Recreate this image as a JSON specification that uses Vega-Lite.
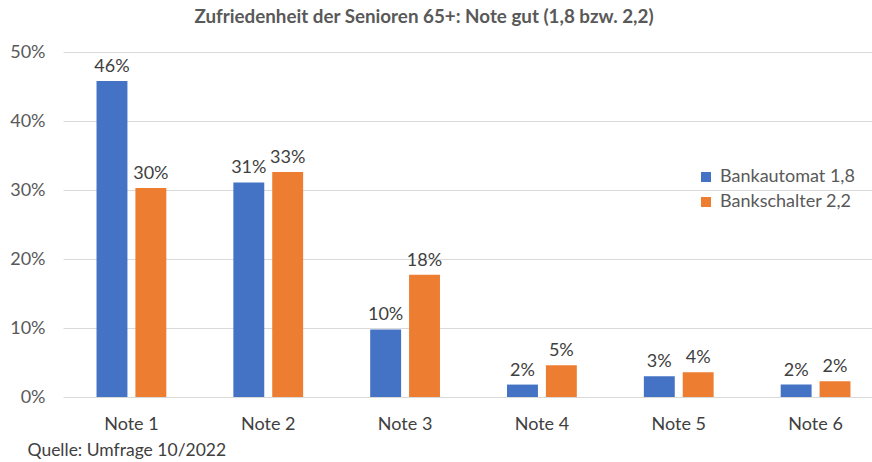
{
  "$schema": "https://vega.github.io/schema/vega-lite/v6.json",
  "width": 808,
  "height": 345,
  "autosize": {"type": "none"},
  "padding": {"left": 63, "top": 52, "right": 1, "bottom": 65},
  "background": "white",
  "title": {
    "text": "Zufriedenheit der Senioren 65+: Note gut (1,8 bzw. 2,2)",
    "anchor": "middle",
    "frame": "group",
    "dx": -43,
    "offset": 16,
    "font": "Lato",
    "fontSize": 18.8,
    "fontWeight": "bold",
    "color": "#595959"
  },
  "data": {
    "values": [
      {"note": "Note 1", "serie": "Bankautomat 1,8", "wert": 0.458},
      {"note": "Note 1", "serie": "Bankschalter 2,2", "wert": 0.303},
      {"note": "Note 2", "serie": "Bankautomat 1,8", "wert": 0.311},
      {"note": "Note 2", "serie": "Bankschalter 2,2", "wert": 0.326},
      {"note": "Note 3", "serie": "Bankautomat 1,8", "wert": 0.098},
      {"note": "Note 3", "serie": "Bankschalter 2,2", "wert": 0.177},
      {"note": "Note 4", "serie": "Bankautomat 1,8", "wert": 0.018},
      {"note": "Note 4", "serie": "Bankschalter 2,2", "wert": 0.046},
      {"note": "Note 5", "serie": "Bankautomat 1,8", "wert": 0.030},
      {"note": "Note 5", "serie": "Bankschalter 2,2", "wert": 0.036},
      {"note": "Note 6", "serie": "Bankautomat 1,8", "wert": 0.018},
      {"note": "Note 6", "serie": "Bankschalter 2,2", "wert": 0.023}
    ]
  },
  "encoding": {
    "x": {
      "field": "note",
      "type": "nominal",
      "sort": null,
      "scale": {"range": [0, 821], "paddingInner": 0.49, "paddingOuter": 0.245},
      "axis": {
        "title": "Quelle: Umfrage 10/2022",
        "titleFont": "Lato",
        "titleFontSize": 17.5,
        "titleFontWeight": "normal",
        "titleColor": "#404040",
        "titleAnchor": "start",
        "titleAlign": "left",
        "titleBaseline": "middle",
        "titleX": -36,
        "titleY": 53,
        "labelAngle": 0,
        "labelFont": "Lato",
        "labelFontSize": 18,
        "labelColor": "#404040",
        "labelPadding": 18,
        "ticks": false,
        "domain": false
      }
    },
    "xOffset": {
      "field": "serie",
      "type": "nominal",
      "sort": ["Bankautomat 1,8", "Bankschalter 2,2"],
      "scale": {"paddingInner": 0.205, "paddingOuter": 0}
    },
    "y": {
      "field": "wert",
      "type": "quantitative",
      "scale": {"domain": [0, 0.5], "nice": false},
      "axis": {
        "title": null,
        "values": [0, 0.1, 0.2, 0.3, 0.4, 0.5],
        "format": ".0%",
        "labelFont": "Lato",
        "labelFontSize": 18,
        "labelColor": "#595959",
        "labelPadding": 18,
        "ticks": false,
        "domain": false,
        "gridColor": "#d9d9d9",
        "gridWidth": 1
      }
    }
  },
  "layer": [
    {
      "mark": {"type": "bar"},
      "encoding": {
        "color": {
          "field": "serie",
          "type": "nominal",
          "sort": ["Bankautomat 1,8", "Bankschalter 2,2"],
          "scale": {"domain": ["Bankautomat 1,8", "Bankschalter 2,2"], "range": ["#4472C4", "#ED7D31"]},
          "legend": {
            "title": null,
            "orient": "none",
            "legendX": 634,
            "legendY": 116,
            "symbolType": "square",
            "symbolSize": 100,
            "symbolStrokeWidth": 0,
            "labelFont": "Lato",
            "labelFontSize": 18,
            "labelColor": "#595959",
            "labelOffset": 5,
            "rowPadding": 7
          }
        }
      }
    },
    {
      "mark": {"type": "text", "baseline": "bottom", "dy": -5, "font": "Lato", "fontSize": 18, "color": "#404040"},
      "encoding": {
        "text": {"field": "wert", "type": "quantitative", "format": ".0%"}
      }
    }
  ],
  "config": {"view": {"stroke": null}}
}
